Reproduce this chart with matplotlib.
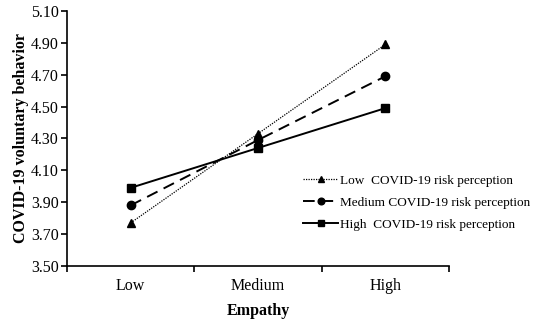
import matplotlib.pyplot as plt
import numpy as np

plt.rcParams['font.family'] = ['Liberation Serif', 'DejaVu Serif']

# Data
categories = ["Low", "Medium", "High"]
low_risk = [3.77, 4.33, 4.89]
medium_risk = [3.88, 4.29, 4.69]
high_risk = [3.99, 4.24, 4.49]
y_ticks = [3.50, 3.70, 3.90, 4.10, 4.30, 4.50, 4.70, 4.90, 5.10]

x = np.arange(len(categories))

fig = plt.figure(figsize=(5.36, 3.2), dpi=100)
ax = fig.add_axes([0.125, 0.169, 0.713, 0.797])

ax.plot(x, low_risk, color='black', linestyle=(0, (1, 1)), linewidth=0.9,
        marker='^', markersize=6, label='Low  COVID-19 risk perception')
ax.plot(x, medium_risk, color='black', linestyle=(0, (6, 3.5)), linewidth=1.4,
        marker='o', markersize=6, label='Medium COVID-19 risk perception')
ax.plot(x, high_risk, color='black', linestyle='-', linewidth=1.4,
        marker='s', markersize=6, label='High  COVID-19 risk perception')

ax.set_xlim(-0.5, 2.5)
ax.set_ylim(3.50, 5.10)
ax.set_yticks(y_ticks)
ax.set_yticklabels([f"{v:.2f}" for v in y_ticks])
ax.set_xticks(x)
ax.set_xticklabels(categories)
ax.set_xticks([-0.5, 0.5, 1.5, 2.5], minor=True)
ax.tick_params(axis='x', which='major', length=0, pad=9, labelsize=11.5)
ax.tick_params(axis='x', which='minor', length=4, width=1.2, direction='out')
ax.tick_params(axis='y', length=4, width=1.2, direction='out', labelsize=11.5, pad=2)

for side in ['top', 'right']:
    ax.spines[side].set_visible(False)
for side in ['left', 'bottom']:
    ax.spines[side].set_linewidth(1.2)

ax.set_xlabel('Empathy', fontweight='bold', fontsize=11.5, labelpad=6)
ax.set_ylabel('COVID-19 voluntary behavior', fontweight='bold', fontsize=11.5, labelpad=1)

ax.legend(loc='upper left', bbox_to_anchor=(0.605, 0.38), frameon=False,
          fontsize=9.5, handlelength=2.65, handletextpad=0.15, labelspacing=0.75,
          borderaxespad=0, borderpad=0.4, markerscale=0.8)

fig.savefig('out.png', dpi=100)
